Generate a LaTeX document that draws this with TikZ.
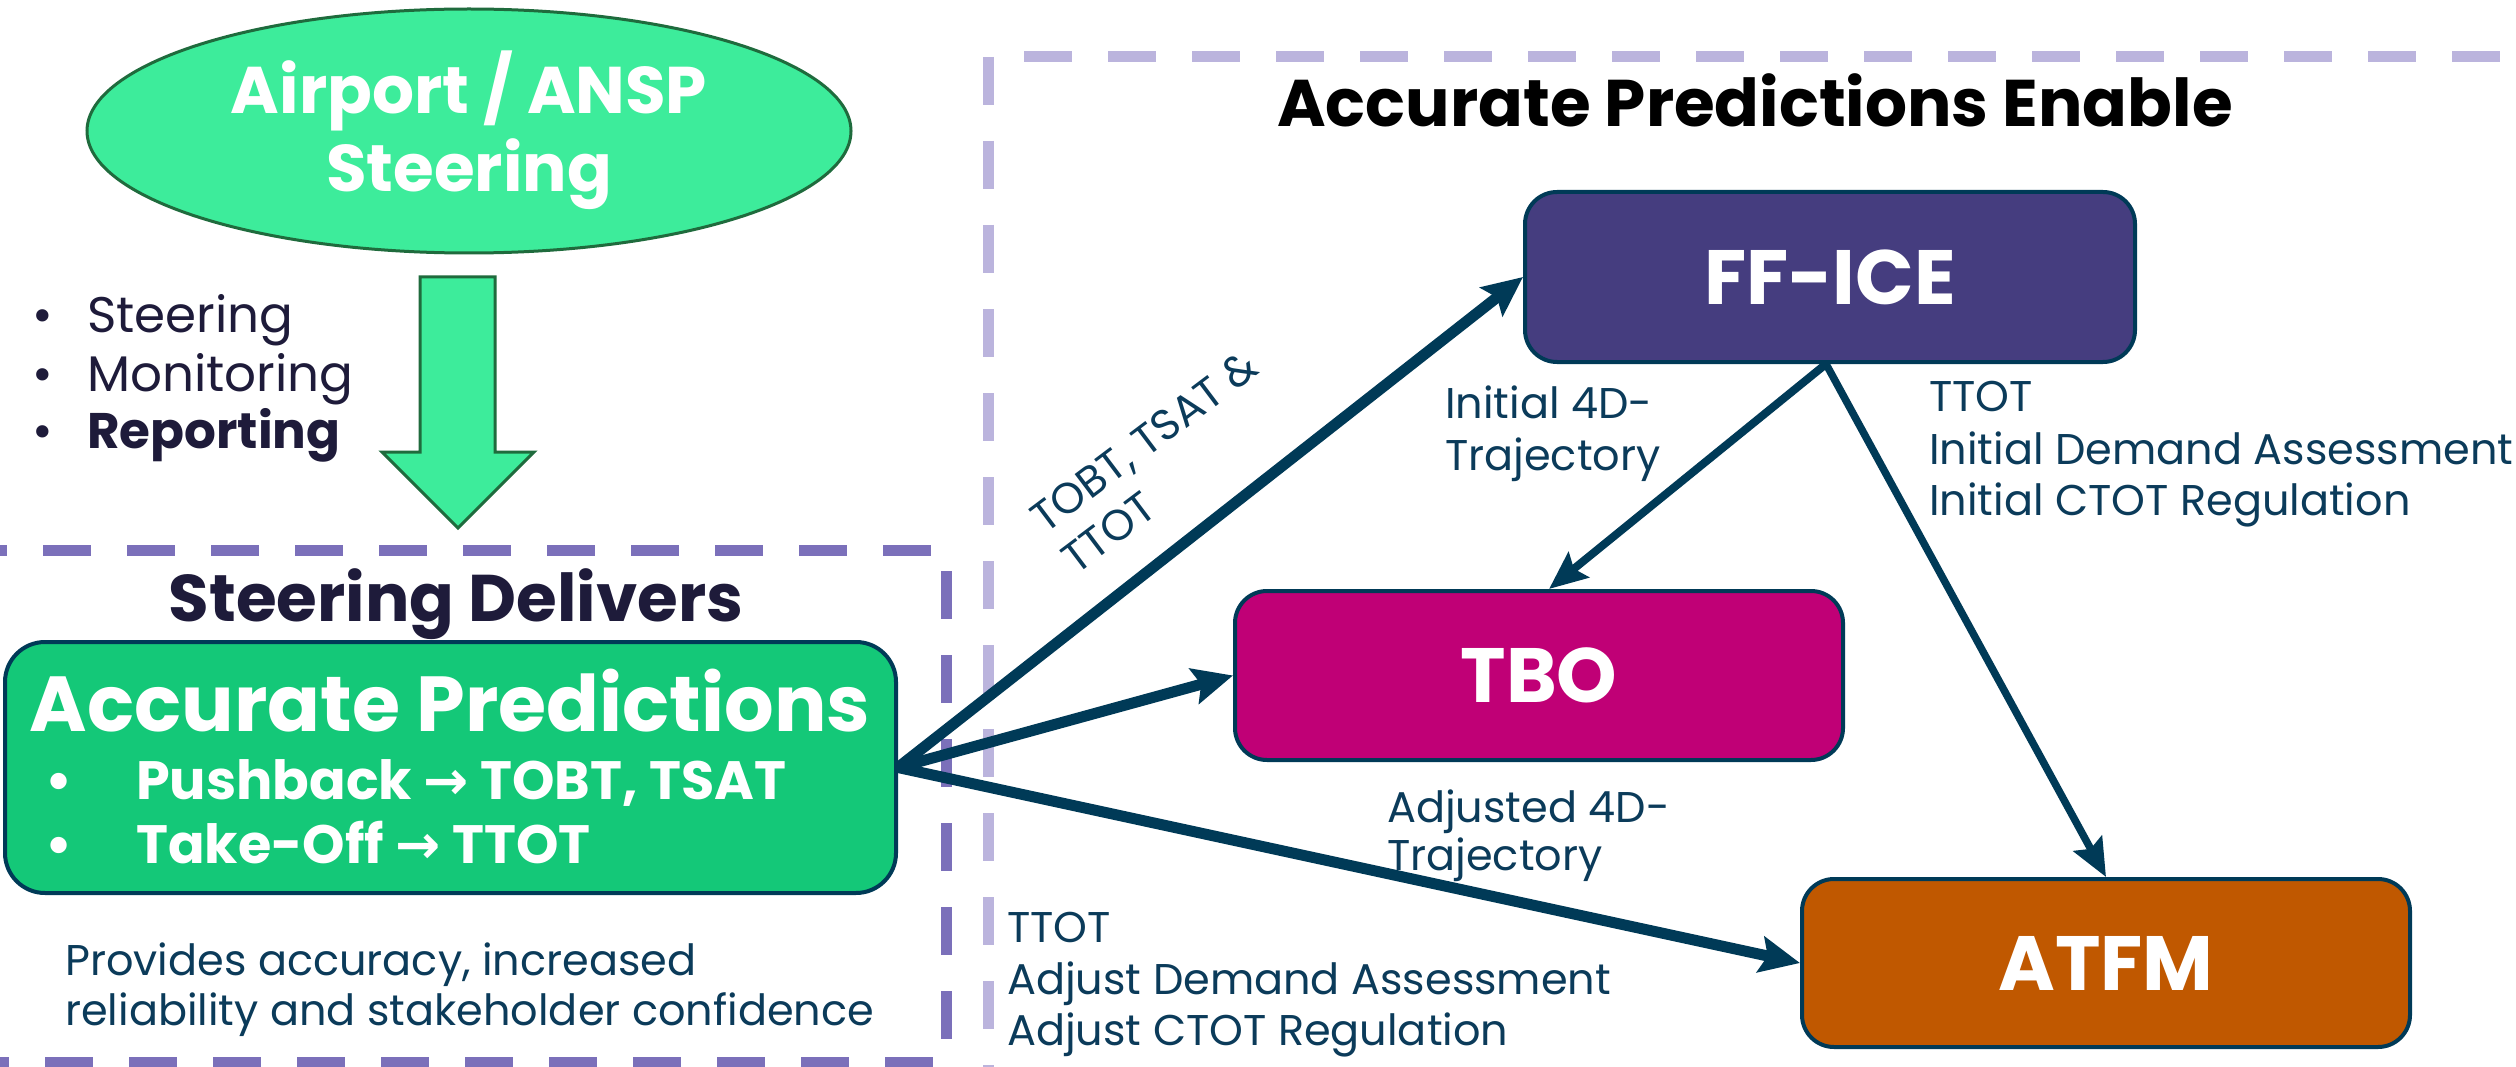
\documentclass[tikz,border=0pt]{standalone}
\usepackage{fontspec}
\setmainfont{Poppins}
\newfontfamily\symfont{DejaVu Sans}
\usetikzlibrary{shapes.geometric,arrows.meta}
\definecolor{lgreen}{HTML}{3DEC9B}
\definecolor{dgreen}{HTML}{1F6B3D}
\definecolor{accgreen}{HTML}{14C878}
\definecolor{boxline}{HTML}{003A57}
\definecolor{ffice}{HTML}{453D7F}
\definecolor{tbo}{HTML}{C00076}
\definecolor{atfm}{HTML}{C05800}
\definecolor{labelc}{HTML}{0B3B5A}
\definecolor{darktxt}{HTML}{1E1B3A}
\definecolor{dashdark}{HTML}{7B70BA}
\definecolor{dashlight}{HTML}{BBB4DD}
\newcommand\fsz[2]{\fontsize{#1}{#2}\selectfont}
\begin{document}
\begin{tikzpicture}[x=1pt,y=-1pt,
  lbl/.style={anchor=base west, inner sep=0pt, text=labelc, font=\fsz{43}{52}},
  btxt/.style={anchor=base west, inner sep=0pt, text=darktxt, font=\fsz{50}{58}},
  procbox/.style={draw=boxline, line width=4pt, rounded corners=32pt, text=white,
     font=\bfseries\fsz{77}{90}, inner sep=0pt},
  conn/.style={draw=boxline, line width=11pt, -{Stealth[length=40pt,width=36pt,inset=7pt]}},
  thinconn/.style={draw=boxline, line width=8pt, -{Stealth[length=38pt,width=32pt,inset=6pt]}},
  dashbig/.style={line width=11pt, dash pattern=on 48pt off 36pt},
  wtxt/.style={inner sep=0pt, text=white}
]
\useasboundingbox (0,0) rectangle (2516,1067);
\fill[white] (0,0) rectangle (2516,1067);

% dashed frames
\draw[dashbig, draw=dashlight, dash phase=48pt] (988,57) -- (2560,57);
\draw[dashbig, draw=dashlight] (988,57) -- (988,1120);
\draw[dashbig, draw=dashdark] (-41,550) -- (946,550) -- (946,1062) -- (-41,1062);

% steering ellipse
\node[ellipse, draw=dgreen, line width=3pt, fill=lgreen, minimum width=764pt, minimum height=244pt, inner sep=0pt] (steer) at (469,131) {};
\node[wtxt, anchor=base, font=\bfseries\fsz{66}{78}] (steer1) at (469,114) {Airport / ANSP};
\node[wtxt, anchor=base, font=\bfseries\fsz{66}{78}] (steer2) at (469,192) {Steering};

% big green arrow
\draw[fill=lgreen, draw=dgreen, line width=3pt] (420,277) -- (495,277) -- (495,452) -- (534,452) -- (458,528) -- (382,452) -- (420,452) -- cycle;

% bullet list
\node[btxt] (b1d) at (32,332) {•};
\node[btxt] (b1) at (87,332) {Steering};
\node[btxt] (b2d) at (32,391) {•};
\node[btxt] (b2) at (87,391) {Monitoring};
\node[btxt] (b3d) at (32,448) {•};
\node[btxt, font=\bfseries\fsz{50}{58}] (b3) at (87,448) {Reporting};

% steering delivers
\node[anchor=base, inner sep=0pt, text=darktxt, font=\bfseries\fsz{66}{70}] (deliv) at (456,621) {Steering Delivers};
\node[draw=boxline, line width=4pt, rounded corners=40pt, fill=accgreen, minimum width=891pt, minimum height=251pt, inner sep=0pt] (acc) at (450.5,767.5) {};
\node[wtxt, anchor=base, font=\bfseries\fsz{78}{90}] (acct) at (450,731) {Accurate Predictions};
\node[wtxt, anchor=base west, font=\bfseries\fsz{54}{64}] (p1d) at (45,799) {•};
\node[wtxt, anchor=base west, font=\bfseries\fsz{54}{64}] (p1) at (136,799) {Pushback {\symfont\bfseries →} TOBT, TSAT};
\node[wtxt, anchor=base west, font=\bfseries\fsz{54}{64}] (p2d) at (45,863) {•};
\node[wtxt, anchor=base west, font=\bfseries\fsz{54}{64}] (p2) at (136,863) {Take-Off {\symfont\bfseries →} TTOT};
\node[lbl] (prov1) at (65,975) {Provides accuracy, increased};
\node[lbl] (prov2) at (65,1025) {reliability and stakeholder confidence};

% right side
\node[anchor=base, inner sep=0pt, text=black, font=\bfseries\fsz{66}{70}] (enable) at (1755,127) {Accurate Predictions Enable};
\node[procbox, fill=ffice, minimum width=610pt, minimum height=170pt] (ff) at (1830,277) {FF-ICE};
\node[procbox, fill=tbo, minimum width=608pt, minimum height=169pt] (tb) at (1539,675.5) {TBO};
\node[procbox, fill=atfm, minimum width=608pt, minimum height=168pt] (at) at (2106,963) {ATFM};

% connectors
\draw[conn] (acc.east) -- (ff.west);
\draw[conn] (acc.east) -- (tb.west);
\draw[conn] (acc.east) -- (at.west);
\draw[thinconn] ([xshift=-4pt]ff.south) -- ([xshift=10pt]tb.north);
\draw[thinconn, line width=7.5pt] ([xshift=-4pt]ff.south) -- (at.north);

% labels
\node[lbl, rotate=37] (l1a) at (1045,535) {TOBT, TSAT \&};
\node[lbl, rotate=37] (l1b) at (1076,576) {TTOT};
\node[lbl] (l2a) at (1445,418) {Initial 4D-};
\node[lbl] (l2b) at (1445,470) {Trajectory};
\node[lbl] (l3a) at (1929,411) {TTOT};
\node[lbl] (l3b) at (1929,464) {Initial Demand Assessment};
\node[lbl] (l3c) at (1929,515) {Initial CTOT Regulation};
\node[lbl] (l4a) at (1387,822) {Adjusted 4D-};
\node[lbl] (l4b) at (1387,870) {Trajectory};
\node[lbl] (l5a) at (1007,942) {TTOT};
\node[lbl] (l5b) at (1007,994) {Adjust Demand Assessment};
\node[lbl] (l5c) at (1007,1045) {Adjust CTOT Regulation};
\end{tikzpicture}
\end{document}
